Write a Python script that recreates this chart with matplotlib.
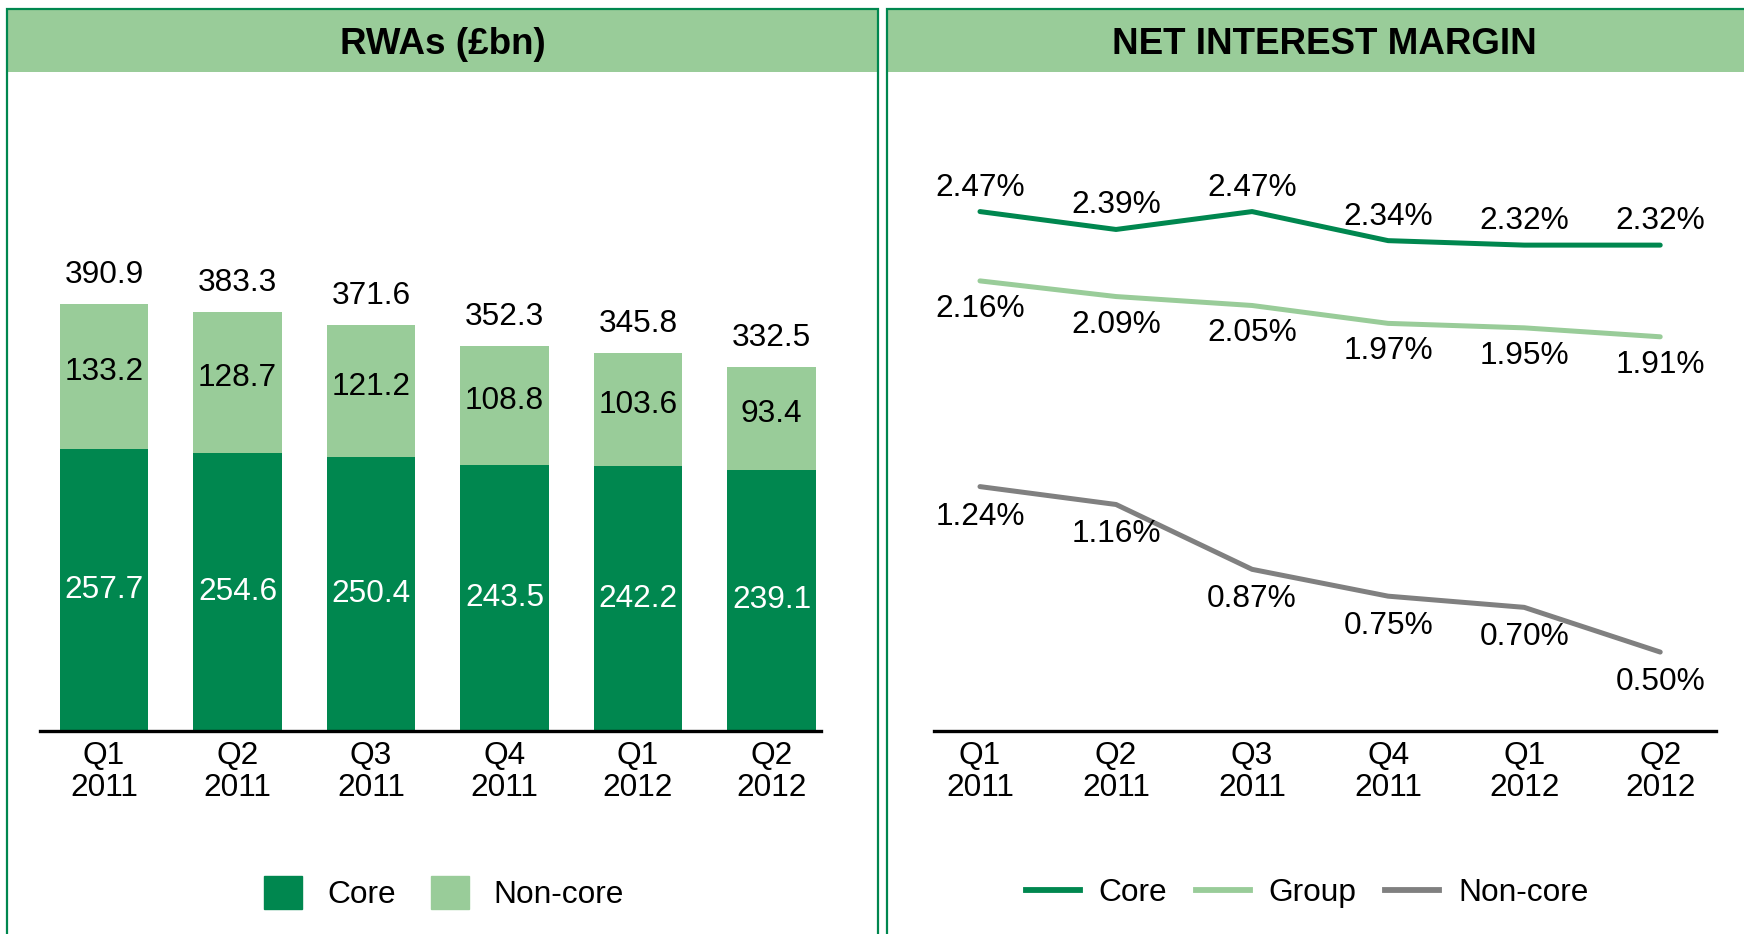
import matplotlib.pyplot as plt
from matplotlib.patches import Rectangle
from matplotlib.lines import Line2D

plt.rcParams['font.family'] = ['Liberation Sans', 'DejaVu Sans']

# data
quarters = ['Q1\n2011', 'Q2\n2011', 'Q3\n2011', 'Q4\n2011', 'Q1\n2012', 'Q2\n2012']
rwa_core = [257.7, 254.6, 250.4, 243.5, 242.2, 239.1]
rwa_noncore = [133.2, 128.7, 121.2, 108.8, 103.6, 93.4]
rwa_total = [390.9, 383.3, 371.6, 352.3, 345.8, 332.5]
nim_core = [2.47, 2.39, 2.47, 2.34, 2.32, 2.32]
nim_group = [2.16, 2.09, 2.05, 1.97, 1.95, 1.91]
nim_noncore = [1.24, 1.16, 0.87, 0.75, 0.70, 0.50]

dark = '#00874F'
light = '#99CC99'
grey = '#808080'
fs = 22.8

W, H = 1744, 934
fig = plt.figure(figsize=(W / 100, H / 100), dpi=100)


def frac(x0, y0, x1, y1):
    # pixel box (top-left origin) -> figure fraction rect
    return [x0 / W, 1 - y1 / H, (x1 - x0) / W, (y1 - y0) / H]


# panel frames + header bands
for x0, x1, title in [(7, 878, 'RWAs (£bn)'), (887, 1761, 'NET INTEREST MARGIN')]:
    r = frac(x0, 10, x1, 72)
    fig.patches.append(Rectangle((r[0], r[1]), r[2], r[3], transform=fig.transFigure,
                                 facecolor=light, edgecolor='none', zorder=0))
    r = frac(x0, 9, x1, 960)
    fig.patches.append(Rectangle((r[0], r[1]), r[2], r[3], transform=fig.transFigure,
                                 facecolor='none', edgecolor=dark, lw=1.6, zorder=1))
    fig.text((x0 + x1) / 2 / W, 1 - 44 / H, title, ha='center', va='center',
             fontsize=26.5, fontweight='bold')

# ---- RWAs stacked bars
ax1 = fig.add_axes(frac(40, 100, 821, 731))
x = range(len(quarters))
ax1.bar(x, rwa_core, width=0.66, color=dark, label='Core')
ax1.bar(x, rwa_noncore, bottom=rwa_core, width=0.66, color=light, label='Non-core')
for i in x:
    ax1.text(i, rwa_core[i] / 2, f'{rwa_core[i]:.1f}', ha='center', va='center',
             color='white', fontsize=fs)
    ax1.annotate(f'{rwa_noncore[i]:.1f}', (i, rwa_core[i] + rwa_noncore[i] / 2),
                 xytext=(0, 4), textcoords='offset pixels',
                 ha='center', va='center', color='black', fontsize=fs)
    ax1.annotate(f'{rwa_total[i]:.1f}', (i, rwa_total[i]), xytext=(0, 29),
                 textcoords='offset pixels', ha='center', va='center', fontsize=fs)
ax1.set_xlim(-0.479, 5.371)
ax1.set_ylim(0, 577)

# ---- NIM lines
ax2 = fig.add_axes(frac(934, 100, 1716, 731))
ax2.plot(x, nim_core, color=dark, lw=3.6, label='Core', solid_capstyle='round')
ax2.plot(x, nim_group, color=light, lw=3.6, label='Group', solid_capstyle='round')
ax2.plot(x, nim_noncore, color=grey, lw=3.6, label='Non-core', solid_capstyle='round')
for series, dy in [(nim_core, 24), (nim_group, -28), (nim_noncore, -30)]:
    for i, v in enumerate(series):
        ax2.annotate(f'{v:.2f}%', (i, v), xytext=(0, dy), textcoords='offset pixels',
                     ha='center', va='center', fontsize=fs)
ax2.set_xlim(-0.338, 5.41)
ax2.set_ylim(0.147, 2.969)

for ax in (ax1, ax2):
    for s in ('top', 'left', 'right'):
        ax.spines[s].set_visible(False)
    ax.spines['bottom'].set_linewidth(2.4)
    ax.spines['bottom'].set_color('black')
    ax.set_yticks([])
    ax.set_xticks(list(x))
    ax.set_xticklabels(quarters, fontsize=fs, linespacing=1.08)
    ax.tick_params(axis='x', length=0, pad=7)
    ax.patch.set_alpha(0)

# legends
h1 = [Rectangle((0, 0), 1, 1, color=dark), Rectangle((0, 0), 1, 1, color=light)]
fig.legend(h1, ['Core', 'Non-core'], loc='center', bbox_to_anchor=(444 / W, 1 - 893 / H),
           ncol=2, frameon=False, fontsize=fs, handlelength=1.2, handleheight=1.2,
           handletextpad=0.8, columnspacing=1.1)
h2 = [Line2D([], [], color=c, lw=4.2) for c in (dark, light, grey)]
fig.legend(h2, ['Core', 'Group', 'Non-core'], loc='center',
           bbox_to_anchor=(1307 / W, 1 - 893 / H), ncol=3, frameon=False, fontsize=fs,
           handlelength=1.7, handletextpad=0.6, columnspacing=0.9)

fig.savefig('out.png', dpi=100)
